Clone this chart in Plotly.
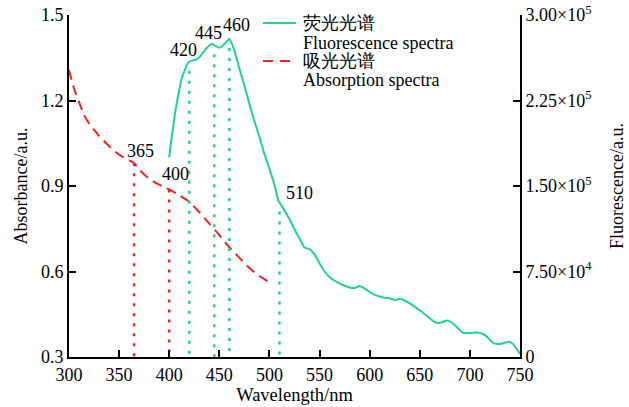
import numpy as np
import plotly.graph_objects as go

# Absorption spectrum (left axis)
abs_wl = [300, 305, 310, 315, 320, 330, 340, 350, 360, 365, 370, 380, 390, 400,
          410, 420, 430, 440, 450, 460, 470, 480, 490, 500, 503]
abs_val = [1.307, 1.242, 1.195, 1.15, 1.12, 1.076, 1.04, 1.01, 0.99, 0.98, 0.958,
           0.925, 0.905, 0.888, 0.868, 0.845, 0.808, 0.768, 0.728, 0.685, 0.648,
           0.612, 0.584, 0.562, 0.555]

# Fluorescence spectrum (right axis)
fl_wl = [400, 402, 404, 406, 408, 410, 412, 414, 416, 418, 420, 423, 426, 429, 432,
         435, 438, 441, 443, 446, 449, 452, 455, 458, 460, 462, 465, 470, 475, 480,
         485, 490, 495, 500, 505, 509, 512, 516, 520, 525, 530, 535, 540, 545, 550,
         555, 560, 565, 570, 575, 580, 585, 590, 595, 600, 605, 610, 615, 620, 625,
         630, 635, 640, 645, 650, 655, 660, 665, 670, 675, 678, 682, 686, 690, 693,
         700, 707, 712, 716, 720, 724, 730, 735, 739, 743, 746, 750]
fl_val = [175e3, 190e3, 202e3, 215e3, 225e3, 234e3, 243e3, 248e3, 253e3, 257e3,
          259e3, 260e3, 260.5e3, 262e3, 265e3, 268.5e3, 271.5e3, 274e3, 274.5e3,
          273e3, 271.5e3, 272e3, 274.5e3, 277.5e3, 279e3, 276e3, 269e3, 253e3,
          238e3, 222e3, 207e3, 193e3, 178e3, 165e3, 151e3, 137e3, 133e3, 127e3,
          121e3, 112e3, 104e3, 96e3, 94.5e3, 90e3, 82e3, 75e3, 70e3, 67e3, 64.5e3,
          62.5e3, 61e3, 60.5e3, 62.3e3, 60e3, 57e3, 54.5e3, 53e3, 52e3, 51.5e3,
          50e3, 51e3, 49.5e3, 47e3, 44e3, 41e3, 37.5e3, 34e3, 30.5e3, 30e3, 31.5e3,
          32e3, 30e3, 27e3, 23.5e3, 21.3e3, 21e3, 21.5e3, 20.5e3, 18.5e3, 15e3,
          12e3, 11.4e3, 12.5e3, 13.4e3, 11.4e3, 8e3, 2.6e3]

abs_peaks = [365, 400]
fl_peaks = [420, 445, 460, 510]

x_ticks = [300, 350, 400, 450, 500, 550, 600, 650, 700, 750]
y_ticks = [0.3, 0.6, 0.9, 1.2, 1.5]
y2_ticks = [0, 75000, 150000, 225000, 300000]
y2_text = ["0", "7.50×10<sup>4</sup>", "1.50×10<sup>5</sup>",
           "2.25×10<sup>5</sup>", "3.00×10<sup>5</sup>"]

fl_name = ["荧光光谱", "Fluorescence spectra"]
abs_name = ["吸光光谱", "Absorption spectra"]

GREEN = "#1FD48C"
RED = "#F52020"
FONT = "Times New Roman"

W, H = 629, 407
ML, MR, MT, MB = 69, 109, 15, 50
PW, PH = W - ML - MR, H - MT - MB


def px_x(p):
    return (p - ML) / PW


def px_y(p):
    return (H - MB - p) / PH


fig = go.Figure()

# vertical dotted markers
for p in abs_peaks:
    v = float(np.interp(p, abs_wl, abs_val))
    fig.add_trace(go.Scatter(x=[p, p], y=[v, 0.3], mode="lines",
                             line=dict(color=RED, width=2.5, dash="3px,7px"),
                             showlegend=False, hoverinfo="skip", yaxis="y"))
for p in fl_peaks:
    v = float(np.interp(p, fl_wl, fl_val))
    fig.add_trace(go.Scatter(x=[p, p], y=[v - 8000, 0], mode="lines",
                             line=dict(color=GREEN, width=2.5, dash="3px,7px"),
                             showlegend=False, hoverinfo="skip", yaxis="y2"))

fig.add_trace(go.Scatter(x=fl_wl, y=fl_val, mode="lines", yaxis="y2",
                         line=dict(color=GREEN, width=2, shape="spline", smoothing=0.6),
                         name=" ".join(fl_name), showlegend=False))
fig.add_trace(go.Scatter(x=abs_wl, y=abs_val, mode="lines", yaxis="y",
                         line=dict(color=RED, width=2, dash="10px,6px", shape="spline",
                                   smoothing=0.6),
                         name=" ".join(abs_name), showlegend=False))

annots = []
shifts_abs = {365: (6, 0), 400: (6, 3)}
for p in abs_peaks:
    v = float(np.interp(p, abs_wl, abs_val))
    dx, dy = shifts_abs[p]
    annots.append(dict(x=p, y=v, xref="x", yref="y", text=str(p), showarrow=False,
                       xanchor="center", yanchor="bottom", xshift=dx, yshift=dy,
                       font=dict(size=18, color="black", family=FONT)))
shifts_fl = {420: (-6, 0), 445: (-6, 0), 460: (7, 2), 510: (20, -3)}
for p in fl_peaks:
    v = float(np.interp(p, fl_wl, fl_val))
    dx, dy = shifts_fl[p]
    annots.append(dict(x=p, y=v, xref="x", yref="y2", text=str(p), showarrow=False,
                       xanchor="center", yanchor="bottom", xshift=dx, yshift=dy,
                       font=dict(size=18, color="black", family=FONT)))

# manual legend (line samples + two-line labels)
shapes = []
legend_items = [(fl_name, GREEN, "solid", 23, 43), (abs_name, RED, "10px,7px", 61, 80)]
for names, color, dash, y1px, y2px in legend_items:
    shapes.append(dict(type="line", xref="paper", yref="paper",
                       x0=px_x(263), x1=px_x(296), y0=px_y(y1px), y1=px_y(y1px),
                       line=dict(color=color, width=2, dash=dash)))
    for txt, ypx in zip(names, (y1px, y2px)):
        annots.append(dict(x=px_x(301), y=px_y(ypx), xref="paper", yref="paper",
                           text=txt, showarrow=False, xanchor="left",
                           yanchor="middle", align="left",
                           font=dict(size=18, color="black", family=FONT)))

axis_common = dict(showline=True, linecolor="black", linewidth=2, ticks="inside",
                   ticklen=7, tickwidth=2, tickcolor="black", showgrid=False,
                   zeroline=False, automargin=False,
                   tickfont=dict(size=18, color="black", family=FONT))

fig.update_layout(
    width=W, height=H,
    margin=dict(l=ML, r=MR, t=MT, b=MB),
    plot_bgcolor="white", paper_bgcolor="white",
    font=dict(family=FONT, size=18, color="black"),
    xaxis=dict(range=[300, 750], tickvals=x_ticks, **axis_common,
               title=dict(text="Wavelength/nm", standoff=2,
                          font=dict(size=18.5, family=FONT))),
    yaxis=dict(range=[0.3, 1.5], tickvals=y_ticks, tickformat=".1f", **axis_common,
               title=dict(text="Absorbance/a.u.", standoff=9,
                          font=dict(size=18, family=FONT))),
    yaxis2=dict(range=[0, 300000], tickvals=y2_ticks, ticktext=y2_text,
                overlaying="y", side="right", **axis_common,
                title=dict(text="Fluorescence/a.u.", standoff=19,
                           font=dict(size=18, family=FONT))),
    shapes=shapes,
    annotations=annots,
    showlegend=False,
)

fig.write_html("out.html", config={"displayModeBar": False},
               post_script="document.body.style.margin='0';"
                           "document.body.style.overflow='hidden';")
